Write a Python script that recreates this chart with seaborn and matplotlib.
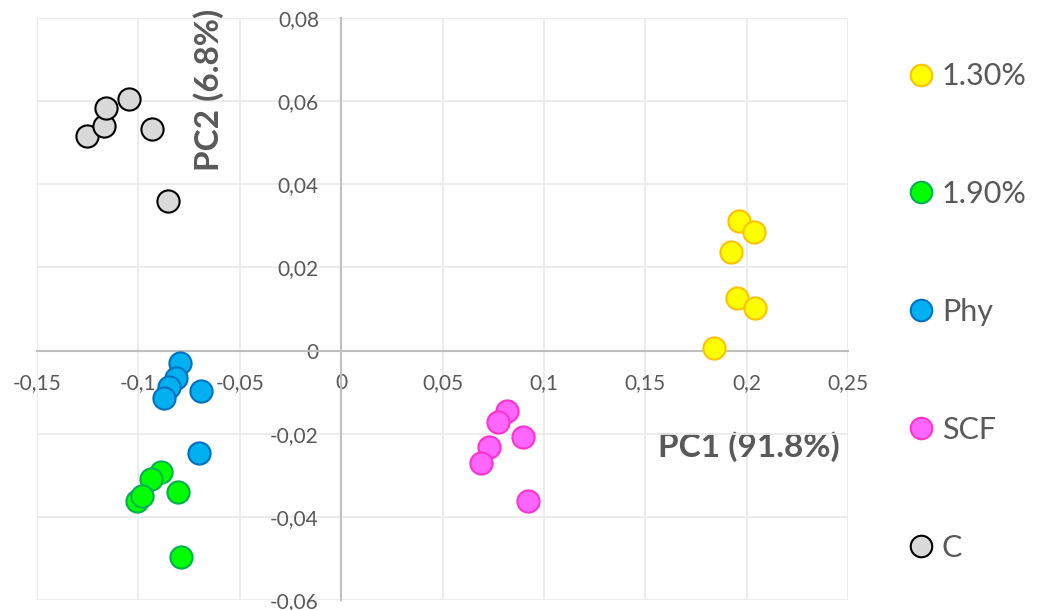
import matplotlib
matplotlib.use("Agg")
import matplotlib.pyplot as plt
from matplotlib.lines import Line2D
import seaborn as sns
import pandas as pd

# PCA scores per treatment group
groups = ["1.30%", "1.90%", "Phy", "SCF", "C"]

pc1_130 = [0.1960, 0.2038, 0.1922, 0.1952, 0.2042, 0.1840]
pc2_130 = [0.0312, 0.0285, 0.0238, 0.0126, 0.0102, 0.0006]

pc1_190 = [-0.0889, -0.0939, -0.1008, -0.0983, -0.0805, -0.0791]
pc2_190 = [-0.0291, -0.0310, -0.0363, -0.0349, -0.0341, -0.0497]

pc1_phy = [-0.0794, -0.0814, -0.0847, -0.0876, -0.0692, -0.0700]
pc2_phy = [-0.0029, -0.0065, -0.0087, -0.0113, -0.0097, -0.0247]

pc1_scf = [0.0820, 0.0773, 0.0899, 0.0727, 0.0689, 0.0924]
pc2_scf = [-0.0145, -0.0171, -0.0209, -0.0232, -0.0270, -0.0363]

pc1_c = [-0.1251, -0.1172, -0.1159, -0.1047, -0.0932, -0.0855]
pc2_c = [0.0517, 0.0540, 0.0583, 0.0605, 0.0534, 0.0359]

face_colors = ["#FFFF00", "#00FF00", "#00B0F0", "#FF66FF", "#D9D9D9"]
edge_colors = ["#FFC000", "#00B050", "#0070C0", "#FF33CC", "#000000"]

x_ticks = [-0.15, -0.1, -0.05, 0, 0.05, 0.1, 0.15, 0.2, 0.25]
x_tick_labels = ["-0,15", "-0,1", "-0,05", "0", "0,05", "0,1", "0,15", "0,2", "0,25"]
y_ticks = [-0.06, -0.04, -0.02, 0, 0.02, 0.04, 0.06, 0.08]
y_tick_labels = ["-0,06", "-0,04", "-0,02", "0", "0,02", "0,04", "0,06", "0,08"]

frames = []
for g, xs, ys in zip(groups,
                     [pc1_130, pc1_190, pc1_phy, pc1_scf, pc1_c],
                     [pc2_130, pc2_190, pc2_phy, pc2_scf, pc2_c]):
    frames.append(pd.DataFrame({"PC1": xs, "PC2": ys, "group": g}))
df = pd.concat(frames, ignore_index=True)

sns.set_theme(style="white")
plt.rcParams["font.family"] = ["Lato", "DejaVu Sans"]

text_color = "#595959"
fig = plt.figure(figsize=(10.4, 6.1), dpi=100)
ax = fig.add_axes([37 / 1040, 10 / 610, 811 / 1040, 582 / 610])

for g, fc, ec in zip(groups, face_colors, edge_colors):
    sns.scatterplot(data=df[df["group"] == g], x="PC1", y="PC2", ax=ax,
                    color=fc, edgecolor=ec, linewidth=1.5, s=255,
                    zorder=3, legend=False)

ax.set_xlim(-0.15, 0.25)
ax.set_ylim(-0.06, 0.08)
ax.set_xticks(x_ticks)
ax.set_xticklabels(x_tick_labels)
ax.set_yticks(y_ticks)
ax.set_yticklabels(y_tick_labels)

ax.grid(True, color="#EBEBEB", linewidth=1.3)
ax.set_axisbelow(True)

for side in ["top", "right"]:
    ax.spines[side].set_visible(False)
for side in ["left", "bottom"]:
    ax.spines[side].set_position(("data", 0))
    ax.spines[side].set_color("#BFBFBF")
    ax.spines[side].set_linewidth(1.5)
    ax.spines[side].set_zorder(2)

ax.tick_params(axis="both", length=0, labelsize=15, labelcolor=text_color)
ax.tick_params(axis="y", pad=16)
ax.tick_params(axis="x", pad=16)

ax.set_xlabel("PC1 (91.8%)", fontsize=24, fontweight="bold", color=text_color)
ax.set_ylabel("PC2 (6.8%)", fontsize=24, fontweight="bold", color=text_color)
ax.xaxis.set_label_coords(0.878, 0.263)
ax.xaxis.label.set_va("center")
ax.yaxis.set_label_coords(0.211, 0.876)
ax.yaxis.label.set_va("center")

handles = [Line2D([0], [0], marker="o", linestyle="none", markersize=15.5,
                  markerfacecolor=fc, markeredgecolor=ec, markeredgewidth=1.5)
           for fc, ec in zip(face_colors, edge_colors)]
leg = fig.legend(handles, groups, loc="upper left",
                 bbox_to_anchor=(893 / 1040, 1 - 47 / 610),
                 frameon=False, fontsize=22, labelspacing=2.94,
                 handlelength=0.8, handletextpad=0.3, borderpad=0)
for t in leg.get_texts():
    t.set_color(text_color)

fig.savefig("out.png", dpi=100)
